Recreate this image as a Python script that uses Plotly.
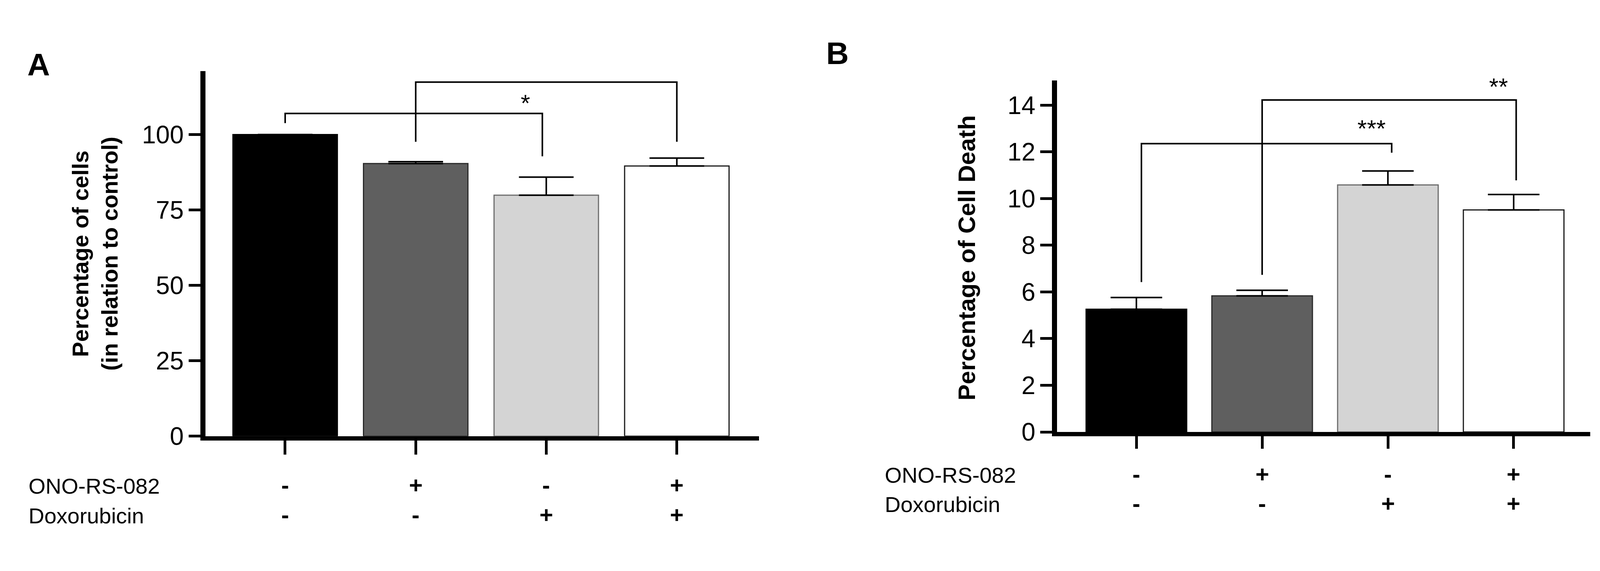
import plotly.graph_objects as go

# Panel A - viability relative to control
groups = ["ctrl", "ONO", "Dox", "ONO+Dox"]
a_values = [100.0, 90.4, 79.9, 89.6]
a_err = [0.0, 0.6, 6.0, 2.6]

# Panel B - cell death
b_values = [5.26, 5.83, 10.58, 9.51]
b_err = [0.50, 0.24, 0.60, 0.66]

# treatment table under each bar
ono_signs = ["-", "+", "-", "+"]
dox_signs = ["-", "-", "+", "+"]
row_names = ["ONO-RS-082", "Doxorubicin"]

a_ticks = [0, 25, 50, 75, 100]
b_ticks = [0, 2, 4, 6, 8, 10, 12, 14]

# significance brackets: (x_left, x_right, y_top, y_left_end, y_right_end, text, text_x, text_y)
a_brackets = [
    (0.0, 1.97, 107.0, 103.8, 92.8, "*", 1.84, 110.5),
    (1.0, 3.0, 117.4, 97.6, 97.6, "NS", 2.79, 123.0),
]
b_brackets = [
    (0.04, 2.03, 12.35, 6.42, 11.96, "***", 1.87, 13.0),
    (1.0, 3.02, 14.22, 6.73, 10.78, "**", 2.88, 14.8),
]

fills = ["#000000", "#5f5f5f", "#d4d4d4", "#ffffff"]
edges = ["#000000", "#2a2a2a", "#6e6e6e", "#1a1a1a"]

FONT = "Liberation Sans, Arial, sans-serif"
W, H = 4321, 1462
xpos = list(range(len(groups)))

fig = go.Figure()


def add_panel(vals, errs, brackets, xa, ya, cap):
    fig.add_trace(go.Bar(
        x=xpos, y=vals, width=0.8,
        marker=dict(color=fills, line=dict(color=edges, width=3)),
        error_y=dict(type="data", array=errs, arrayminus=[0] * len(errs),
                     symmetric=False, color="black", thickness=4, width=cap),
        xaxis=xa, yaxis=ya, showlegend=False,
    ))
    for x0, x1, top, yl, yr, txt, tx, ty in brackets:
        fig.add_trace(go.Scatter(
            x=[x0, x0, x1, x1], y=[yl, top, top, yr], mode="lines",
            line=dict(color="black", width=4),
            xaxis=xa, yaxis=ya, showlegend=False, hoverinfo="skip",
        ))
        fig.add_annotation(x=tx, y=ty, text=txt, showarrow=False,
                           xref=xa, yref=ya,
                           font=dict(family=FONT, size=52 if txt == "NS" else 62,
                                     color="black"))


add_panel(a_values, a_err, a_brackets, "x", "y", 70)
add_panel(b_values, b_err, b_brackets, "x2", "y2", 66)

axis_style = dict(showgrid=False, zeroline=False, showline=True, linecolor="black",
                  ticks="outside", tickcolor="black")

fig.update_layout(
    autosize=True,
    margin=dict(l=0, r=0, t=0, b=0),
    paper_bgcolor="white", plot_bgcolor="white",
    bargap=0.2,
    xaxis=dict(domain=[555 / W, 2050 / W], range=[-0.61, 3.63],
               tickvals=xpos, showticklabels=False, linewidth=11,
               tickwidth=7, ticklen=36, **axis_style),
    yaxis=dict(domain=[1 - 1145 / H, 1 - 187 / H], range=[0, 121],
               tickvals=a_ticks, linewidth=13, tickwidth=7, ticklen=30,
               tickfont=dict(family=FONT, size=64, color="black"), **axis_style),
    xaxis2=dict(domain=[2855 / W, 4295 / W], range=[-0.63, 3.61],
                tickvals=xpos, showticklabels=False, linewidth=11,
                tickwidth=7, ticklen=32, anchor="y2", **axis_style),
    yaxis2=dict(domain=[1 - 1134 / H, 1 - 211 / H], range=[0, 15.06],
                tickvals=b_ticks, linewidth=13, tickwidth=7, ticklen=30,
                anchor="x2",
                tickfont=dict(family=FONT, size=64, color="black"), **axis_style),
)

# panel letters
fig.add_annotation(x=72 / W, y=1 - 122 / H, xref="paper", yref="paper", text="<b>A</b>",
                   showarrow=False, font=dict(family=FONT, size=80, color="black"))
fig.add_annotation(x=2262 / W, y=1 - 92 / H, xref="paper", yref="paper", text="<b>B</b>",
                   showarrow=False, font=dict(family=FONT, size=80, color="black"))

# y axis titles
fig.add_annotation(x=180 / W, y=1 - 666 / H, xref="paper", yref="paper",
                   text="<b>Percentage of cells<br>(in relation to control)</b>",
                   textangle=-90, showarrow=False,
                   font=dict(family=FONT, size=58, color="black"))
fig.add_annotation(x=2610 / W, y=1 - 677 / H, xref="paper", yref="paper",
                   text="<b>Percentage of Cell Death</b>",
                   textangle=-90, showarrow=False,
                   font=dict(family=FONT, size=62, color="black"))

# treatment rows under each panel
rows = [ono_signs, dox_signs]
panels = [("x", 75, [1310, 1388]), ("x2", 2387, [1282, 1358])]
for xa, label_x, row_y in panels:
    for name, signs, yy in zip(row_names, rows, row_y):
        fig.add_annotation(x=label_x / W, y=1 - yy / H, xref="paper", yref="paper",
                           text=name, showarrow=False, xanchor="left",
                           font=dict(family=FONT, size=56, color="black"))
        for xi, s in zip(xpos, signs):
            fig.add_annotation(x=xi, y=1 - yy / H, xref=xa, yref="paper",
                               text="<b>" + s + "</b>", showarrow=False,
                               font=dict(family=FONT, size=60, color="black"))

# fill the browser viewport exactly (no body margin, no scrollbars)
fit_js = """
document.body.style.margin = '0';
document.body.style.overflow = 'hidden';
Plotly.Plots.resize(document.getElementById('{plot_id}'));
"""

fig.write_html("out.html", default_width="100vw", default_height="100vh",
               config={"responsive": True, "displayModeBar": False},
               post_script=fit_js)
